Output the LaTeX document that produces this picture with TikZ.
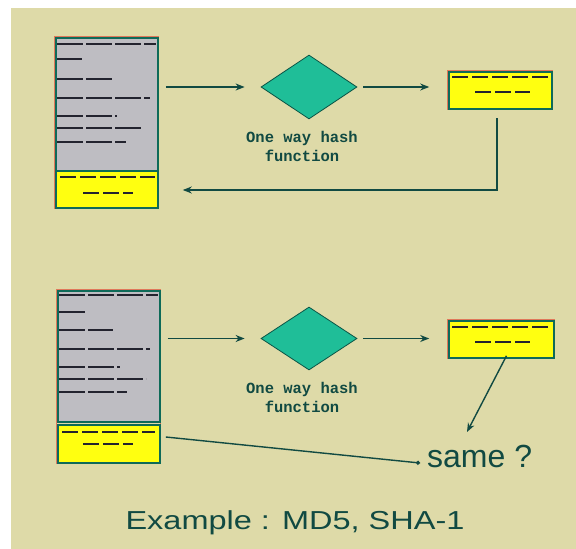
\documentclass[tikz,border=0pt]{standalone}
\usepackage{fontspec}
\usetikzlibrary{shapes.geometric,arrows.meta}
\newfontfamily\labelfont{Liberation Mono}
\newfontfamily\titlefont{Liberation Sans}
\definecolor{bgbeige}{HTML}{DEDAA8}
\definecolor{teal}{HTML}{0E6A58}
\definecolor{darkteal}{HTML}{114A42}
\definecolor{grayfill}{HTML}{BEBDC2}
\definecolor{yellowfill}{HTML}{FFFF10}
\definecolor{diamondfill}{HTML}{1FBE98}
\definecolor{greek}{HTML}{23232E}
\definecolor{fringe}{HTML}{E0785A}
\tikzset{
  docbox/.style={draw=teal, line width=1.6pt, fill=grayfill, inner sep=0pt},
  hashbox/.style={draw=teal, line width=1.6pt, fill=yellowfill, inner sep=0pt},
  hashfn/.style={diamond, draw=teal!80!black, line width=0.8pt, fill=diamondfill, inner sep=0pt, minimum width=96pt, minimum height=64pt},
  fnlabel/.style={font=\labelfont\bfseries\fontsize{15.5}{19}\selectfont, text=darkteal, align=center, inner sep=0pt},
  conn/.style={draw=darkteal, line width=1.4pt, -{Stealth[length=9pt,width=7pt]}},
  greekline/.style={draw=greek, line width=2.6pt, dash pattern=on 26pt off 3pt},
}
\begin{document}
\begin{tikzpicture}[x=1pt,y=-1pt]
\useasboundingbox (0,0) rectangle (576,549);
\fill[white] (0,0) rectangle (576,549);
\fill[bgbeige] (11,8) rectangle (576,549);

% fringes (colour bleed round the boxes)
\draw[fringe, line width=0.9pt] (54.5,36.5) rectangle (158.5,208.5);
\draw[fringe, line width=0.9pt] (447.5,70.5) rectangle (552,109);
\draw[fringe, line width=0.9pt] (56.5,289.5) rectangle (160.5,463.5);
\draw[fringe, line width=0.9pt] (447.5,319.5) rectangle (554,358);

% ---------- top ----------
\node[docbox, minimum width=102pt, minimum height=134pt] (doc1) at (107,105) {};
\node[hashbox, minimum width=102pt, minimum height=37pt] (doc1h) at (107,189.5) {};
\node[hashfn] (d1) at (309,87) {};
\node[hashbox, minimum width=103pt, minimum height=37pt] (h1) at (500.5,90.5) {};
\node[fnlabel] (l1) at (302,146) {One way hash\\function};

% greeked text, top
\draw[greekline] (57,44) -- (156,44);
\draw[greekline] (57,59) -- (82,59);
\draw[greekline] (57,79) -- (112,79);
\draw[greekline] (57,98) -- (150,98);
\draw[greekline] (57,116) -- (117,116);
\draw[greekline] (57,128) -- (143,128);
\draw[greekline] (57,142) -- (126,142);
\draw[greekline, line width=2pt, dash pattern=on 16pt off 4pt] (60,177) -- (155,177);
\draw[greekline, line width=2pt, dash pattern=on 16pt off 4pt] (83,193) -- (133,193);
\draw[greekline, line width=2pt, dash pattern=on 16pt off 4pt] (452,77) -- (548,77);
\draw[greekline, line width=2pt, dash pattern=on 16pt off 4pt] (475,92) -- (530,92);

\draw[conn] (doc1.east |- 0,87) ++(7,0) -- ([xshift=-16pt]d1.west);
\draw[conn] ([xshift=6pt]d1.east) -- ([xshift=-19pt]h1.west |- d1.east);
\coordinate (r1) at (497,190);
\draw[conn] (497,118) -- (r1) -- ([xshift=24pt]doc1h.east |- r1);

% ---------- bottom ----------
\node[docbox, minimum width=102pt, minimum height=131pt] (doc2) at (109,356.5) {};
\node[hashbox, minimum width=102pt, minimum height=38pt] (doc2h) at (109,444) {};
\node[hashfn, minimum height=63pt] (d2) at (309,338.5) {};
\node[hashbox, minimum width=105pt, minimum height=37pt] (h2) at (501.5,339.5) {};
\node[fnlabel] (l2) at (302,397) {One way hash\\function};
\node[font=\titlefont\fontsize{32}{32}\selectfont, text=darkteal, inner sep=0pt, anchor=west] (same) at (427,456) {same ?};

\draw[greekline] (59,295) -- (158,295);
\draw[greekline] (59,312) -- (85,312);
\draw[greekline] (59,330) -- (113,330);
\draw[greekline] (59,349) -- (150,349);
\draw[greekline] (59,367) -- (120,367);
\draw[greekline] (59,379) -- (146,379);
\draw[greekline] (59,392) -- (127,392);
\draw[greekline, line width=2pt, dash pattern=on 16pt off 4pt] (62,432) -- (155,432);
\draw[greekline, line width=2pt, dash pattern=on 16pt off 4pt] (83,444) -- (133,444);
\draw[greekline, line width=2pt, dash pattern=on 16pt off 4pt] (452,327) -- (550,327);
\draw[greekline, line width=2pt, dash pattern=on 16pt off 4pt] (475,342) -- (530,342);

\draw[conn] ([xshift=7pt]doc2.east |- d2.west) -- ([xshift=-16pt]d2.west);
\draw[conn] ([xshift=6pt]d2.east) -- ([xshift=-19pt]h2.west |- d2.east);
\draw[conn] ([shift={(5pt,3pt)}]h2.south) -- (467,432);
\draw[conn, -{Circle[length=4pt]}] ([xshift=5pt]doc2h.east |- 0,437) -- ([xshift=-7pt]same.west |- 0,463);

% ---------- title ----------
\node[font=\titlefont\fontsize{26}{26}\selectfont, text=darkteal, inner sep=0pt, xscale=1.25] (title) at (295,523) {Example : MD5, SHA-1};
\end{tikzpicture}
\end{document}
